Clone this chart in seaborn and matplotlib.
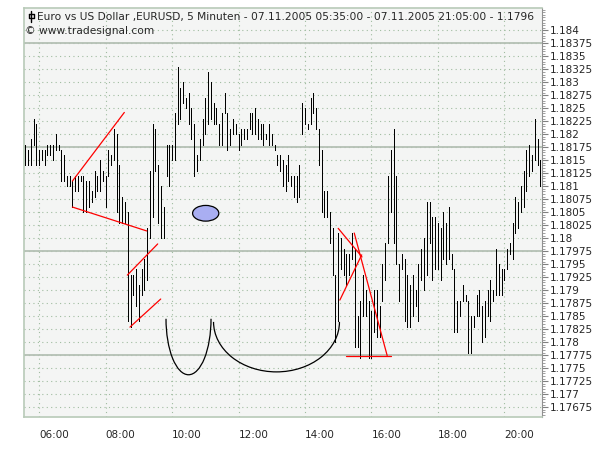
import numpy as np
import pandas as pd
import seaborn as sns
import matplotlib.pyplot as plt
from matplotlib.patches import Ellipse, Arc
from matplotlib.lines import Line2D
from matplotlib.ticker import MultipleLocator, FixedLocator, FuncFormatter

# EURUSD 5 min bars, 07.11.2005 05:35 - 21:05 (high / low)
high = [1.1818, 1.1817, 1.1819, 1.1823, 1.1822, 1.1817, 1.1817, 1.1817, 1.1818, 1.1818,
        1.1818, 1.1820, 1.1818, 1.1817, 1.1816, 1.1812, 1.1812, 1.1811, 1.1812, 1.1812,
        1.1812, 1.1812, 1.1811, 1.1811, 1.1809, 1.1813, 1.1812, 1.1815, 1.1813, 1.1812,
        1.1817, 1.1816, 1.1821, 1.1820, 1.1814, 1.1808, 1.1807, 1.1805, 1.1793, 1.1793,
        1.1794, 1.1791, 1.1794, 1.1796, 1.1802, 1.1813, 1.1822, 1.1821, 1.1814, 1.1810,
        1.1806, 1.1818, 1.1818, 1.1818, 1.1824, 1.1833, 1.1829, 1.1830, 1.1827, 1.1828,
        1.1825, 1.1822, 1.1816, 1.1819, 1.1823, 1.1827, 1.1832, 1.1830, 1.1826, 1.1825,
        1.1822, 1.1824, 1.1828, 1.1824, 1.1821, 1.1823, 1.1822, 1.1820, 1.1821, 1.1821,
        1.1821, 1.1824, 1.1824, 1.1825, 1.1823, 1.1822, 1.1822, 1.1820, 1.1822, 1.1820,
        1.1818, 1.1816, 1.1816, 1.1815, 1.1814, 1.1816, 1.1812, 1.1812, 1.1812, 1.1814,
        1.1826, 1.1825, 1.1822, 1.1827, 1.1828, 1.1825, 1.1821, 1.1817, 1.1809, 1.1809,
        1.1805, 1.1802, 1.1793, 1.1801, 1.1800, 1.1798, 1.1797, 1.1797, 1.1801, 1.1798,
        1.1785, 1.1788, 1.1793, 1.1790, 1.1788, 1.1786, 1.1790, 1.1790, 1.1787, 1.1795,
        1.1799, 1.1812, 1.1817, 1.1821, 1.1812, 1.1795, 1.1797, 1.1796, 1.1793, 1.1791,
        1.1793, 1.1790, 1.1795, 1.1798, 1.1800, 1.1807, 1.1807, 1.1804, 1.1804, 1.1803,
        1.1802, 1.1805, 1.1803, 1.1806, 1.1797, 1.1794, 1.1788, 1.1788, 1.1791, 1.1789,
        1.1788, 1.1785, 1.1785, 1.1789, 1.1790, 1.1787, 1.1788, 1.1790, 1.1792, 1.1790,
        1.1798, 1.1795, 1.1794, 1.1794, 1.1798, 1.1799, 1.1803, 1.1808, 1.1807, 1.1810,
        1.1813, 1.1817, 1.1818, 1.1816, 1.1823, 1.1819, 1.1815]
low = [1.1814, 1.1814, 1.1814, 1.1818, 1.1814, 1.1814, 1.1815, 1.1814, 1.1816, 1.1816,
       1.1815, 1.1817, 1.1817, 1.1811, 1.1811, 1.1810, 1.1810, 1.1806, 1.1809, 1.1809,
       1.1811, 1.1805, 1.1805, 1.1806, 1.1807, 1.1808, 1.1809, 1.1809, 1.1811, 1.1806,
       1.1812, 1.1814, 1.1815, 1.1805, 1.1803, 1.1803, 1.1803, 1.1784, 1.1783, 1.1789,
       1.1787, 1.1784, 1.1789, 1.1790, 1.1792, 1.1800, 1.1804, 1.1813, 1.1803, 1.1800,
       1.1800, 1.1812, 1.1810, 1.1815, 1.1815, 1.1822, 1.1823, 1.1826, 1.1825, 1.1822,
       1.1819, 1.1812, 1.1813, 1.1815, 1.1818, 1.1820, 1.1822, 1.1823, 1.1822, 1.1822,
       1.1818, 1.1818, 1.1824, 1.1817, 1.1818, 1.1820, 1.1820, 1.1817, 1.1818, 1.1819,
       1.1819, 1.1821, 1.1820, 1.1820, 1.1819, 1.1819, 1.1818, 1.1819, 1.1818, 1.1818,
       1.1817, 1.1814, 1.1813, 1.1810, 1.1809, 1.1811, 1.1810, 1.1808, 1.1807, 1.1808,
       1.1820, 1.1822, 1.1821, 1.1822, 1.1824, 1.1821, 1.1814, 1.1805, 1.1804, 1.1804,
       1.1799, 1.1793, 1.1780, 1.1784, 1.1794, 1.1793, 1.1791, 1.1793, 1.1796, 1.1779,
       1.1779, 1.1777, 1.1785, 1.1785, 1.1777, 1.1777, 1.1782, 1.1781, 1.1781, 1.1788,
       1.1792, 1.1799, 1.1805, 1.1799, 1.1795, 1.1788, 1.1794, 1.1784, 1.1783, 1.1783,
       1.1785, 1.1787, 1.1784, 1.1792, 1.1790, 1.1793, 1.1799, 1.1792, 1.1794, 1.1794,
       1.1792, 1.1796, 1.1795, 1.1796, 1.1794, 1.1782, 1.1782, 1.1785, 1.1788, 1.1788,
       1.1778, 1.1778, 1.1783, 1.1785, 1.1785, 1.1780, 1.1781, 1.1785, 1.1784, 1.1788,
       1.1789, 1.1789, 1.1789, 1.1792, 1.1794, 1.1797, 1.1796, 1.1801, 1.1802, 1.1805,
       1.1806, 1.1809, 1.1812, 1.1813, 1.1815, 1.1814, 1.1810]

start_hour = 5 + 35 / 60
step = 5 / 60
hours = [start_hour + i * step for i in range(len(high))]

# drawing tools on the chart (time in hours, price)
red_lines = [(7.0, 1.18110, 8.5625, 1.18242),
             (7.0, 1.18060, 9.237, 1.18014),
             (8.653, 1.17929, 9.567, 1.17989),
             (8.733, 1.17829, 9.658, 1.17883),
             (15.0, 1.18019, 15.717, 1.17964),
             (15.05, 1.17881, 15.708, 1.17968),
             (15.483, 1.18010, 16.475, 1.17774),
             (15.233, 1.17774, 16.583, 1.17774)]
arcs = [(10.495, 1.17845, 1.355, 0.002154),
        (13.143, 1.17839, 3.79, 0.001924)]
blue_oval = (11.0125, 1.18048, 0.79, 0.000302)
solid_levels = [1.17775, 1.17975, 1.18175, 1.18375]
price_ticks = [1.17675 + 0.00025 * k for k in range(30)]
hour_ticks = [6, 8, 10, 12, 14, 16, 18, 20]
hour_labels = ['06:00', '08:00', '10:00', '12:00', '14:00', '16:00', '18:00', '20:00']

sns.set_style('white')
plt.rcParams['font.family'] = ['DejaVu Sans']

fig = plt.figure(figsize=(6, 4.5), dpi=100)
ax = fig.add_axes([24 / 600, 33 / 450, (541.7 - 24) / 600, (417 - 8) / 450])
ax.set_facecolor('#f4f5f4')

# one high-low segment per bar: every bar is its own hue level, all black
n_bars = len(high)
bars = pd.DataFrame({'bar': np.repeat(np.arange(n_bars), 2),
                     't': np.repeat(hours, 2),
                     'price': np.column_stack([low, high]).ravel()})
sns.lineplot(data=bars, x='t', y='price', hue='bar', palette=['black'] * n_bars,
             estimator=None, sort=False, lw=0.6, antialiased=False,
             solid_capstyle='butt', legend=False, ax=ax, zorder=3)

for lvl in solid_levels:
    ax.axhline(lvl, color='#b4c0b4', lw=1.3, zorder=1)

for x0, y0, x1, y1 in red_lines:
    ax.plot([x0, x1], [y0, y1], color='red', lw=0.9, zorder=4)
for cx, cy, w, h in arcs:
    ax.add_patch(Arc((cx, cy), w, h, theta1=180, theta2=360, color='black', lw=0.9, zorder=4))
ax.add_patch(Ellipse(blue_oval[:2], blue_oval[2], blue_oval[3], facecolor='#a9aef2',
                     edgecolor='black', lw=0.9, zorder=4))

ax.set_xlim(start_hour - 0.04, 21 + 5 / 60 + 0.042)
ax.set_ylim(1.17656, 1.18443)
ax.set_xlabel('')
ax.set_ylabel('')

ax.xaxis.set_major_locator(FixedLocator(hour_ticks))
ax.xaxis.set_minor_locator(FixedLocator([h + 1 for h in hour_ticks]))
ax.set_xticklabels(hour_labels, ha='left')
ax.tick_params(axis='x', which='major', length=7, color='#707070', labelsize=7.5, pad=2, direction='out')
ax.tick_params(axis='x', which='minor', length=4, color='#707070', direction='out')

ax.yaxis.tick_right()
ax.yaxis.set_major_locator(FixedLocator(price_ticks))
ax.yaxis.set_minor_locator(MultipleLocator(0.00005))
ax.yaxis.set_major_formatter(FuncFormatter(lambda v, p: f'{v:.5f}'.rstrip('0').rstrip('.')))
ax.tick_params(axis='y', which='major', length=4, color='#808080', labelsize=7.5, pad=2, direction='out')
ax.tick_params(axis='y', which='minor', length=2, color='#909090', direction='out')

ax.grid(axis='y', which='major', color='#a0bca0', ls=(0, (1, 3)), lw=0.8)
ax.grid(axis='x', which='major', color='#a0bca0', ls=(0, (1, 3)), lw=0.8)
ax.set_axisbelow(True)

for side in ['left', 'top', 'bottom']:
    ax.spines[side].set_color('#b8cab8')
    ax.spines[side].set_linewidth(1.2)
ax.spines['right'].set_color('#909090')

# little bar icon in front of the title
fig.add_artist(Line2D([31 / 600, 31 / 600], [1 - 11 / 450, 1 - 22 / 450], color='black', lw=1))
fig.add_artist(Line2D([28.5 / 600, 33.5 / 600, 33.5 / 600, 28.5 / 600, 28.5 / 600],
                      [1 - 14 / 450, 1 - 14 / 450, 1 - 18 / 450, 1 - 18 / 450, 1 - 14 / 450],
                      color='black', lw=1))
fig.text(37 / 600, 1 - 17 / 450,
         'Euro vs US Dollar ,EURUSD, 5 Minuten - 07.11.2005 05:35:00 - 07.11.2005 21:05:00 - 1.1796',
         fontsize=7.7, va='center', ha='left')
fig.text(25 / 600, 1 - 31 / 450, '© www.tradesignal.com', fontsize=7.7, va='center', ha='left')

fig.savefig('out.png', dpi=100)
